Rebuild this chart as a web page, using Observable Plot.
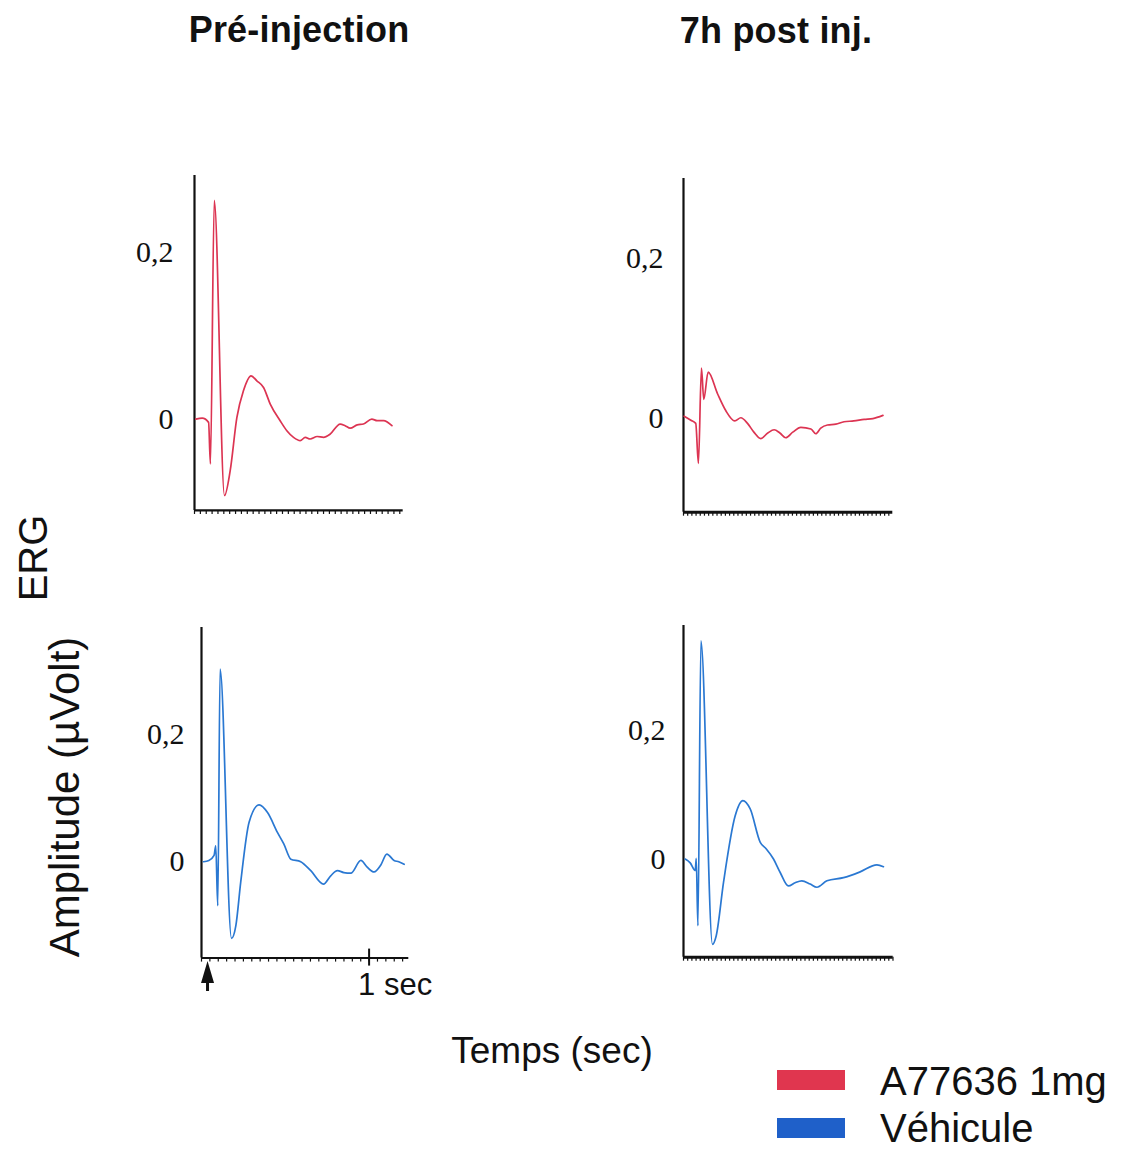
<!DOCTYPE html>
<html><head><meta charset="utf-8">
<script src="https://cdn.jsdelivr.net/npm/d3@7"></script>
<script src="https://cdn.jsdelivr.net/npm/@observablehq/plot@0.6"></script>
<style>
body{margin:0;background:#fff}
#c{position:relative;width:1129px;height:1150px;overflow:hidden;font-family:"Liberation Sans",Arial,sans-serif;color:#111;background:#fff}
.t{position:absolute;white-space:nowrap;transform:translate(-50%,-50%);line-height:1}
.p{position:absolute}
</style></head><body><div id="c"></div>
<script>
// ---- data: [time (s), amplitude] ----
const titles = ["Pré-injection", "7h post inj."];
const seriesNames = ["A77636 1mg", "Véhicule"];
const yTicks = [0, 0.2];
const timeTickLabel = "1 sec";

const drugPre = [[0.008,0.000],[0.046,0.001],[0.084,-0.004],[0.095,-0.054],[0.118,0.263],[0.179,-0.092],[0.213,-0.062],[0.253,0.002],[0.292,0.034],[0.337,0.052],[0.372,0.046],[0.412,0.038],[0.452,0.018],[0.511,-0.002],[0.551,-0.014],[0.591,-0.022],[0.631,-0.026],[0.661,-0.022],[0.690,-0.024],[0.732,-0.021],[0.770,-0.022],[0.810,-0.018],[0.869,-0.006],[0.899,-0.008],[0.929,-0.011],[0.971,-0.007],[1.008,-0.006],[1.058,0.000],[1.090,-0.002],[1.128,-0.002],[1.178,-0.008]];
const drugPost = [[0.004,0.003],[0.044,-0.002],[0.073,-0.006],[0.089,-0.056],[0.107,0.063],[0.121,0.024],[0.147,0.058],[0.203,0.031],[0.252,0.010],[0.306,-0.003],[0.342,0.001],[0.382,-0.006],[0.420,-0.017],[0.461,-0.025],[0.503,-0.018],[0.541,-0.014],[0.575,-0.018],[0.610,-0.024],[0.652,-0.017],[0.700,-0.011],[0.760,-0.013],[0.789,-0.019],[0.819,-0.012],[0.859,-0.008],[0.909,-0.007],[0.958,-0.004],[1.016,-0.003],[1.078,-0.001],[1.130,0.000],[1.190,0.004]];
const vehPre = [[0.012,0.000],[0.044,0.002],[0.075,0.010],[0.085,0.025],[0.097,-0.069],[0.111,0.302],[0.179,-0.120],[0.205,-0.100],[0.234,-0.032],[0.284,0.062],[0.344,0.089],[0.394,0.077],[0.453,0.046],[0.491,0.028],[0.533,0.004],[0.592,0.000],[0.652,-0.014],[0.728,-0.035],[0.771,-0.022],[0.811,-0.014],[0.849,-0.017],[0.891,-0.018],[0.951,0.002],[0.987,-0.008],[1.030,-0.016],[1.070,-0.005],[1.106,0.012],[1.149,0.002],[1.177,0.000],[1.209,-0.004]];
const vehPost = [[0.010,0.000],[0.040,-0.006],[0.070,-0.018],[0.076,0.001],[0.086,-0.104],[0.104,0.340],[0.173,-0.133],[0.195,-0.120],[0.239,-0.036],[0.308,0.067],[0.354,0.091],[0.398,0.078],[0.458,0.026],[0.493,0.016],[0.537,0.000],[0.577,-0.021],[0.626,-0.042],[0.666,-0.037],[0.706,-0.034],[0.756,-0.039],[0.796,-0.044],[0.856,-0.034],[0.955,-0.029],[1.054,-0.020],[1.154,-0.009],[1.193,-0.012]];
const stimulusTime = 0.036;

// ---- layout ----
const RED = "#dc3452", BLUE = "#2a78d2";
const PX_PER_SEC = 167.6;
const panels = [
  {data: drugPre,  color: RED,  x0: 194.3, xEnd: 403,  yTop: 175,   yBot: 510,   ydom: [-0.110, 0.293], pad: 21, bw: 2.2, ticksStep: 0.035},
  {data: drugPost, color: RED,  x0: 682.7, xEnd: 892,  yTop: 178,   yBot: 511.7, ydom: [-0.117, 0.300], pad: 20, bw: 3,   ticksStep: 0.025},
  {data: vehPre,   color: BLUE, x0: 200.7, xEnd: 408,  yTop: 626.7, yBot: 957.3, ydom: [-0.151, 0.367], pad: 17, bw: 2,   ticksStep: 0.05, stim: true},
  {data: vehPost,  color: BLUE, x0: 683.3, xEnd: 893,  yTop: 625,   yBot: 956.7, ydom: [-0.153, 0.364], pad: 18, bw: 3,   ticksStep: 0.025}
];
const ML = 80, MR = 12, MT = 6, MB = 50;
const c = document.getElementById("c");

// stimulus arrow glyph (filled triangle with a short stem)
const arrowSymbol = {
  draw(ctx) {
    ctx.moveTo(0, -12);
    ctx.lineTo(6.5, 10);
    ctx.lineTo(1.5, 10);
    ctx.lineTo(1.5, 18);
    ctx.lineTo(-1.5, 18);
    ctx.lineTo(-1.5, 10);
    ctx.lineTo(-6.5, 10);
    ctx.closePath();
  }
};

for (const p of panels) {
  const xmax = (p.xEnd - p.x0) / PX_PER_SEC;
  const ymin = p.ydom[0];
  const marks = [
    Plot.axisY({ticks: yTicks, tickSize: 0, tickPadding: p.pad, tickFormat: d => String(d).replace(".", ",")}),
    Plot.axisX({ticks: d3.range(0, xmax, p.ticksStep), tickSize: 4, tickFormat: () => "", strokeWidth: 1.2}),
    Plot.ruleX([0], {strokeWidth: 2.2, stroke: "#111"}),
    Plot.ruleY([ymin], {strokeWidth: p.bw, stroke: "#111"}),
    Plot.line(p.data, {x: d => d[0], y: d => d[1], stroke: p.color, strokeWidth: 1.7, curve: "monotone-x", strokeLinejoin: "round"})
  ];
  if (p.stim) {
    marks.push(
      Plot.axisX({ticks: [1], tickSize: 8, tickFormat: () => "", strokeWidth: 2}),
      Plot.ruleX([1], {y1: ymin, y2: ymin + 9 / ((p.yBot - p.yTop) / (p.ydom[1] - p.ydom[0])), strokeWidth: 2, stroke: "#111"}),
      Plot.text([1], {x: d => d, y: () => ymin, text: () => timeTickLabel, dy: 27, dx: -11, textAnchor: "start", fontFamily: "Liberation Sans", fontSize: 31, fill: "#111"}),
      Plot.dot([stimulusTime], {x: d => d, y: () => ymin, symbol: arrowSymbol, r: 7, dy: 15, fill: "#111", stroke: "none"})
    );
  }
  const w = ML + (p.xEnd - p.x0) + MR;
  const h = MT + (p.yBot - p.yTop) + MB;
  const svg = Plot.plot({
    width: w, height: h,
    marginLeft: ML, marginRight: MR, marginTop: MT, marginBottom: MB,
    x: {domain: [0, xmax]},
    y: {domain: p.ydom},
    style: {background: "transparent", overflow: "visible", color: "#111", fontFamily: "'Liberation Serif', serif", fontSize: "30px"},
    marks
  });
  svg.classList.add("p");
  svg.style.left = (p.x0 - ML) + "px";
  svg.style.top = (p.yTop - MT) + "px";
  c.appendChild(svg);
}

function addText(txt, x, y, css) {
  const d = document.createElement("div");
  d.className = "t";
  d.textContent = txt;
  d.style.left = x + "px";
  d.style.top = y + "px";
  Object.assign(d.style, css || {});
  c.appendChild(d);
  return d;
}
addText(titles[0], 299, 30, {fontSize: "36px", fontWeight: "bold", letterSpacing: "0.2px"});
addText(titles[1], 776, 31, {fontSize: "36px", fontWeight: "bold", letterSpacing: "0.2px"});
addText("ERG", 33, 558, {fontSize: "40px", transform: "translate(-50%,-50%) rotate(-90deg)"});
addText("Amplitude (µVolt)", 65, 797, {fontSize: "42px", transform: "translate(-50%,-50%) rotate(-90deg)"});
addText("Temps (sec)", 552, 1050, {fontSize: "37px"});

// legend
const legColors = ["#e0364f", "#1f60c9"];
seriesNames.forEach((n, i) => {
  const r = document.createElement("div");
  r.className = "p";
  Object.assign(r.style, {left: "777px", top: (1070 + i * 48) + "px", width: "68px", height: "20px", background: legColors[i]});
  c.appendChild(r);
  addText(n, 880, 1081 + i * 47, {fontSize: "40px", lineHeight: "1.15", transform: "translate(0,-50%)"});
});
</script></body></html>
